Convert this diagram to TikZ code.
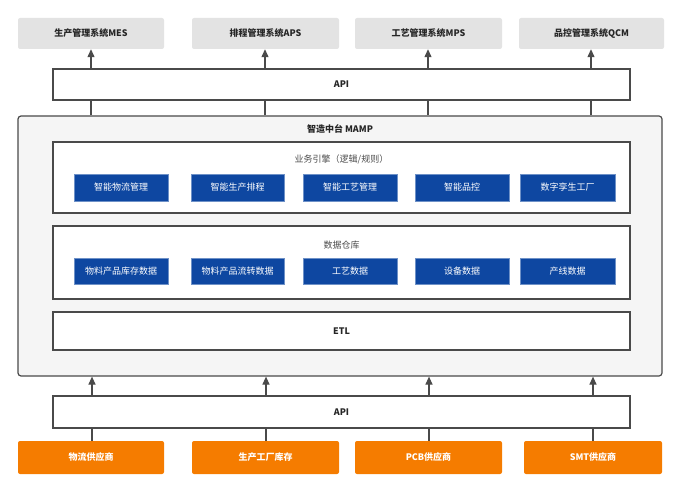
\documentclass[tikz,border=0pt]{standalone}
\usepackage{fontspec}
\setmainfont{Noto Sans CJK SC}
\usetikzlibrary{arrows.meta}
\definecolor{bl}{HTML}{0E47A1}
\definecolor{og}{HTML}{F57C00}
\definecolor{gr}{HTML}{E3E3E3}
\definecolor{bd}{HTML}{4A4A4A}
\begin{document}
\begin{tikzpicture}[x=1pt,y=-1pt,
 box/.style={draw=bd,line width=1.2pt,fill=white},
 top/.style={fill=gr,rounded corners=2pt,font=\fontsize{9}{11}\selectfont\bfseries,text=black!85},
 org/.style={fill=og,rounded corners=2pt,font=\fontsize{9}{11}\selectfont\bfseries,text=white},
 blu/.style={fill=bl,draw=bl!60,font=\fontsize{9}{11}\selectfont,text=white},
 lbl/.style={font=\fontsize{9}{11}\selectfont\bfseries,text=black!85},
 arr/.style={draw=bd,line width=1.2pt,-{Triangle[length=8pt,width=7pt]}},
 ln/.style={draw=bd,line width=1.2pt}]
\useasboundingbox (0,0) rectangle (680,492);
% top systems
\node[top,minimum width=146pt,minimum height=31pt] (t1) at (91,33.5) {生产管理系统MES};
\node[top,minimum width=147pt,minimum height=31pt] (t2) at (265.5,33.5) {排程管理系统APS};
\node[top,minimum width=147pt,minimum height=31pt] (t3) at (428.5,33.5) {工艺管理系统MPS};
\node[top,minimum width=145pt,minimum height=31pt] (t4) at (591.5,33.5) {品控管理系统QCM};
% API top
\node[box,minimum width=577pt,minimum height=31pt,lbl] (api1) at (341.5,84.5) {API};
% MAMP
\node[draw=bd,line width=1.2pt,fill=black!4,rounded corners=3pt,minimum width=644pt,minimum height=260pt] (mamp) at (340,246) {};
\node[lbl] (mt) at (340,129) {智造中台 MAMP};
\node[box,minimum width=577pt,minimum height=71pt] (eng) at (341.5,177.5) {};
\node[font=\fontsize{9}{11}\selectfont,text=black!70] (engl) at (341.5,159) {业务引擎（逻辑/规则）};
\node[blu,minimum width=94pt,minimum height=27pt] (e1) at (121,187.5) {智能物流管理};
\node[blu,minimum width=93pt,minimum height=27pt] (e2) at (237.5,187.5) {智能生产排程};
\node[blu,minimum width=94pt,minimum height=27pt] (e3) at (350,187.5) {智能工艺管理};
\node[blu,minimum width=94pt,minimum height=27pt] (e4) at (462,187.5) {智能品控};
\node[blu,minimum width=95pt,minimum height=27pt] (e5) at (567.5,187.5) {数字孪生工厂};
\node[box,minimum width=577pt,minimum height=73pt] (dw) at (341.5,262.5) {};
\node[font=\fontsize{9}{11}\selectfont,text=black!70] (dwl) at (341.5,245) {数据仓库};
\node[blu,minimum width=94pt,minimum height=26pt] (d1) at (121,271) {物料产品库存数据};
\node[blu,minimum width=93pt,minimum height=26pt] (d2) at (237.5,271) {物料产品流转数据};
\node[blu,minimum width=94pt,minimum height=26pt] (d3) at (350,271) {工艺数据};
\node[blu,minimum width=94pt,minimum height=26pt] (d4) at (462,271) {设备数据};
\node[blu,minimum width=95pt,minimum height=26pt] (d5) at (567.5,271) {产线数据};
\node[box,minimum width=577pt,minimum height=38pt,lbl] (etl) at (341.5,331) {ETL};
% API bottom
\node[box,minimum width=577pt,minimum height=32pt,lbl] (api2) at (341.5,412) {API};
% suppliers
\node[org,minimum width=146pt,minimum height=33pt] (s1) at (91,457.5) {物流供应商};
\node[org,minimum width=147pt,minimum height=33pt] (s2) at (265.5,457.5) {生产工厂库存};
\node[org,minimum width=147pt,minimum height=33pt] (s3) at (428.5,457.5) {PCB供应商};
\node[org,minimum width=138pt,minimum height=33pt] (s4) at (593,457.5) {SMT供应商};
% connectors
\foreach \i/\x in {1/91,2/265,3/428,4/591}{
  \draw[arr] (\x,0 |- api1.north) -- (\x,0 |- t\i.south);
  \draw[ln] (\x,0 |- mamp.north) -- (\x,0 |- api1.south);
}
\foreach \i/\x in {1/92,2/266,3/429,4/593}{
  \draw[arr] (\x,0 |- api2.north) -- (\x,0 |- mamp.south);
  \draw[ln] (\x,0 |- s\i.north) -- (\x,0 |- api2.south);
}
\end{tikzpicture}
\end{document}
